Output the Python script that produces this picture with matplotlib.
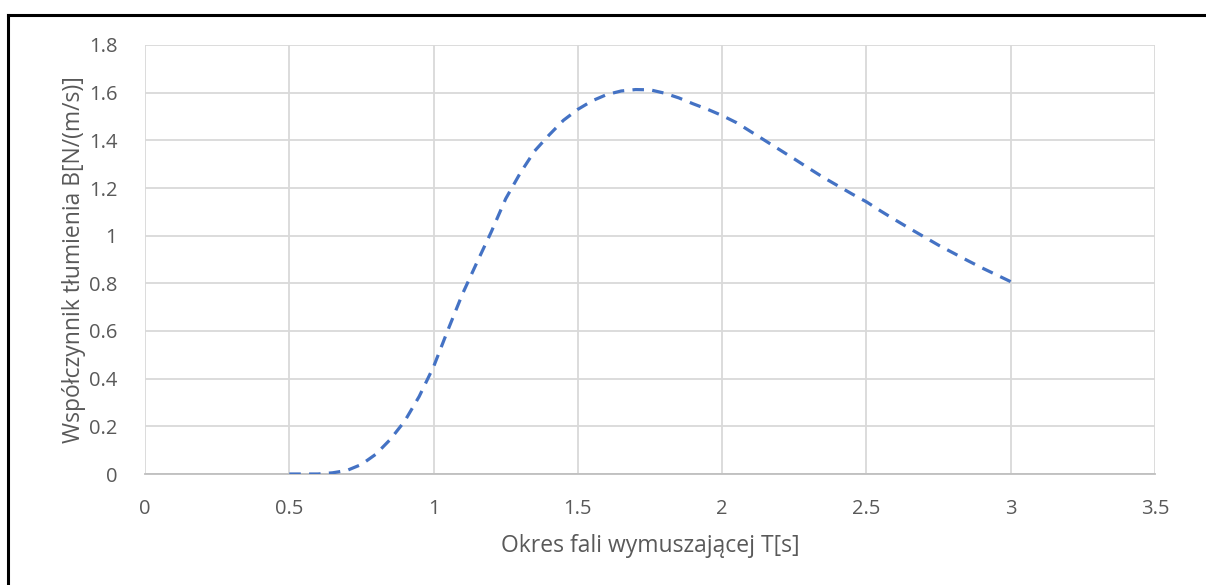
import matplotlib
matplotlib.use("Agg")
import matplotlib.pyplot as plt
from matplotlib.lines import Line2D
import numpy as np

# okres fali [s] i odczytany wspolczynnik tlumienia
period = [0.5, 0.55, 0.6, 0.65, 0.7, 0.75, 0.8, 0.85, 0.9, 0.95, 1.0, 1.05,
          1.1, 1.15, 1.2, 1.25, 1.3, 1.35, 1.4, 1.45, 1.5, 1.55, 1.6, 1.65,
          1.7, 1.75, 1.8, 1.85, 1.9, 1.95, 2.0, 2.05, 2.1, 2.15, 2.2, 2.25,
          2.3, 2.35, 2.4, 2.45, 2.5, 2.55, 2.6, 2.65, 2.7, 2.75, 2.8, 2.85,
          2.9, 2.95, 3.0]
damping = [0.0, 0.0, 0.0, 0.005, 0.015, 0.04, 0.083, 0.145, 0.222, 0.325,
           0.45, 0.605, 0.755, 0.887, 1.016, 1.155, 1.262, 1.355, 1.422,
           1.484, 1.53, 1.566, 1.592, 1.607, 1.613, 1.612, 1.598, 1.578,
           1.553, 1.53, 1.504, 1.474, 1.436, 1.398, 1.36, 1.322, 1.283,
           1.245, 1.21, 1.175, 1.142, 1.103, 1.066, 1.03, 0.995, 0.96, 0.928,
           0.896, 0.865, 0.836, 0.807]

x_ticks = [0, 0.5, 1, 1.5, 2, 2.5, 3, 3.5]
x_labels = ["0", "0.5", "1", "1.5", "2", "2.5", "3", "3.5"]
y_ticks = [0, 0.2, 0.4, 0.6, 0.8, 1.0, 1.2, 1.4, 1.6, 1.8]
y_labels = ["0", "0.2", "0.4", "0.6", "0.8", "1", "1.2", "1.4", "1.6", "1.8"]

plt.rcParams['font.family'] = ['Open Sans', 'DejaVu Sans']
text_color = "#595959"
grid_color = "#d9d9d9"

fig = plt.figure(figsize=(12.06, 5.85), dpi=100)
ax = fig.add_axes([145 / 1206, 1 - 474 / 585, 1010 / 1206, 429 / 585])

ax.plot(period, damping, color="#4472C4", linewidth=2.3,
        linestyle=(0, (3.6, 2.6)), dash_capstyle="butt",
        solid_joinstyle="round", zorder=3)

ax.set_xlim(0, 3.5)
ax.set_ylim(0, 1.8)
ax.set_xticks(x_ticks)
ax.set_xticklabels(x_labels)
ax.set_yticks(y_ticks)
ax.set_yticklabels(y_labels)
ax.grid(True, color=grid_color, linewidth=1.3)
ax.set_axisbelow(True)
for side in ["top", "right", "left"]:
    ax.spines[side].set_visible(False)
ax.spines["bottom"].set_color("#bfbfbf")
ax.spines["bottom"].set_linewidth(1.3)
ax.tick_params(length=0, labelsize=14.5, labelcolor=text_color)
ax.tick_params(axis="x", pad=18)
ax.tick_params(axis="y", pad=20)

ax.set_xlabel("Okres fali wymuszającej T[s]", fontsize=16.5, color=text_color,
              labelpad=11)
ax.set_ylabel("Współczynnik tłumienia B[N/(m/s)]", fontsize=16.5,
              color=text_color, labelpad=2)

# czarna ramka wokol wykresu
fig.add_artist(Line2D([8 / 1206, 8 / 1206], [0, 1 - 15 / 585],
                      transform=fig.transFigure, color="black", linewidth=2.2,
                      solid_capstyle="projecting"))
fig.add_artist(Line2D([8 / 1206, 1], [1 - 15 / 585, 1 - 15 / 585],
                      transform=fig.transFigure, color="black", linewidth=2.2,
                      solid_capstyle="projecting"))

fig.savefig("out.png", dpi=100)
